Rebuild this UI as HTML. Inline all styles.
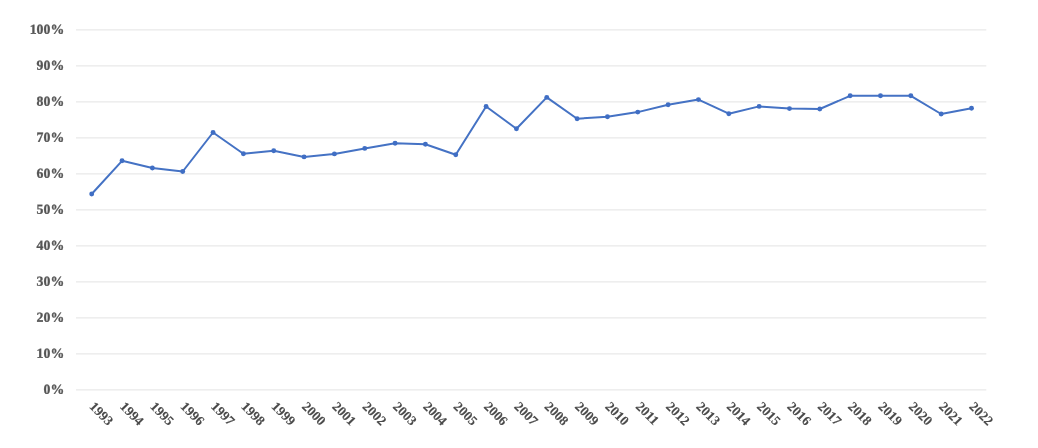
<!DOCTYPE html>
<html><head><meta charset="utf-8"><title>Chart</title>
<style>
html,body{margin:0;padding:0;background:#fff;}
body{width:1038px;height:448px;overflow:hidden;}
svg{display:block;}
text{font-family:"Liberation Serif","Times New Roman",serif;text-rendering:geometricPrecision;}
.yl{font-size:13.8px;font-weight:bold;fill:#555;stroke:#555;stroke-width:0.3px;text-anchor:end;}
.xl{font-size:13.5px;font-weight:bold;fill:#4a4a4a;stroke:#4a4a4a;stroke-width:0.1px;text-anchor:start;}
</style></head><body>
<svg width="1038" height="448" viewBox="0 0 1038 448">
<defs><filter id="soft" x="0" y="0" width="1038" height="448" filterUnits="userSpaceOnUse"><feGaussianBlur stdDeviation="0.7"/></filter></defs>
<rect width="1038" height="448" fill="#ffffff"/>
<g filter="url(#soft)">
<g stroke="#e9e9e9" stroke-width="1.3">
<line x1="76.0" y1="29.8" x2="986.3" y2="29.8"/>
<line x1="76.0" y1="65.8" x2="986.3" y2="65.8"/>
<line x1="76.0" y1="101.8" x2="986.3" y2="101.8"/>
<line x1="76.0" y1="137.8" x2="986.3" y2="137.8"/>
<line x1="76.0" y1="173.8" x2="986.3" y2="173.8"/>
<line x1="76.0" y1="209.8" x2="986.3" y2="209.8"/>
<line x1="76.0" y1="245.8" x2="986.3" y2="245.8"/>
<line x1="76.0" y1="281.8" x2="986.3" y2="281.8"/>
<line x1="76.0" y1="317.8" x2="986.3" y2="317.8"/>
<line x1="76.0" y1="353.8" x2="986.3" y2="353.8"/>
<line x1="76.0" y1="389.8" x2="986.3" y2="389.8"/>
</g>
<g>
<text class="yl" transform="translate(64.2,33.85) rotate(0.03)">100%</text>
<text class="yl" transform="translate(64.2,69.85) rotate(0.03)">90%</text>
<text class="yl" transform="translate(64.2,105.85) rotate(0.03)">80%</text>
<text class="yl" transform="translate(64.2,141.85) rotate(0.03)">70%</text>
<text class="yl" transform="translate(64.2,177.85) rotate(0.03)">60%</text>
<text class="yl" transform="translate(64.2,213.85) rotate(0.03)">50%</text>
<text class="yl" transform="translate(64.2,249.85) rotate(0.03)">40%</text>
<text class="yl" transform="translate(64.2,285.85) rotate(0.03)">30%</text>
<text class="yl" transform="translate(64.2,321.85) rotate(0.03)">20%</text>
<text class="yl" transform="translate(64.2,357.85) rotate(0.03)">10%</text>
<text class="yl" transform="translate(64.2,393.85) rotate(0.03)">0%</text>
</g>
<polyline fill="none" stroke="#4472c4" stroke-width="2.0" stroke-linejoin="round" stroke-linecap="round" points="91.7,194.0 122.04,160.8 152.38,168.0 182.71,171.5 213.05,132.5 243.39,153.7 273.73,150.8 304.07,156.9 334.4,153.9 364.74,148.4 395.08,143.3 425.42,144.3 455.76,154.8 486.09,106.5 516.43,128.8 546.77,97.4 577.11,118.7 607.44,116.7 637.78,112.1 668.12,104.8 698.46,99.6 728.8,113.7 759.13,106.4 789.47,108.6 819.81,109.0 850.15,95.8 880.49,95.8 910.82,95.8 941.16,114.0 971.5,108.3"/>
<g fill="#3f6ec4">
<circle cx="91.7" cy="194.0" r="2.45"/>
<circle cx="122.04" cy="160.8" r="2.45"/>
<circle cx="152.38" cy="168.0" r="2.45"/>
<circle cx="182.71" cy="171.5" r="2.45"/>
<circle cx="213.05" cy="132.5" r="2.45"/>
<circle cx="243.39" cy="153.7" r="2.45"/>
<circle cx="273.73" cy="150.8" r="2.45"/>
<circle cx="304.07" cy="156.9" r="2.45"/>
<circle cx="334.4" cy="153.9" r="2.45"/>
<circle cx="364.74" cy="148.4" r="2.45"/>
<circle cx="395.08" cy="143.3" r="2.45"/>
<circle cx="425.42" cy="144.3" r="2.45"/>
<circle cx="455.76" cy="154.8" r="2.45"/>
<circle cx="486.09" cy="106.5" r="2.45"/>
<circle cx="516.43" cy="128.8" r="2.45"/>
<circle cx="546.77" cy="97.4" r="2.45"/>
<circle cx="577.11" cy="118.7" r="2.45"/>
<circle cx="607.44" cy="116.7" r="2.45"/>
<circle cx="637.78" cy="112.1" r="2.45"/>
<circle cx="668.12" cy="104.8" r="2.45"/>
<circle cx="698.46" cy="99.6" r="2.45"/>
<circle cx="728.8" cy="113.7" r="2.45"/>
<circle cx="759.13" cy="106.4" r="2.45"/>
<circle cx="789.47" cy="108.6" r="2.45"/>
<circle cx="819.81" cy="109.0" r="2.45"/>
<circle cx="850.15" cy="95.8" r="2.45"/>
<circle cx="880.49" cy="95.8" r="2.45"/>
<circle cx="910.82" cy="95.8" r="2.45"/>
<circle cx="941.16" cy="114.0" r="2.45"/>
<circle cx="971.5" cy="108.3" r="2.45"/>
</g>
<g>
<text class="xl" transform="translate(88.80,407.2) rotate(45)">1993</text>
<text class="xl" transform="translate(119.14,407.2) rotate(45)">1994</text>
<text class="xl" transform="translate(149.48,407.2) rotate(45)">1995</text>
<text class="xl" transform="translate(179.81,407.2) rotate(45)">1996</text>
<text class="xl" transform="translate(210.15,407.2) rotate(45)">1997</text>
<text class="xl" transform="translate(240.49,407.2) rotate(45)">1998</text>
<text class="xl" transform="translate(270.83,407.2) rotate(45)">1999</text>
<text class="xl" transform="translate(301.17,407.2) rotate(45)">2000</text>
<text class="xl" transform="translate(331.50,407.2) rotate(45)">2001</text>
<text class="xl" transform="translate(361.84,407.2) rotate(45)">2002</text>
<text class="xl" transform="translate(392.18,407.2) rotate(45)">2003</text>
<text class="xl" transform="translate(422.52,407.2) rotate(45)">2004</text>
<text class="xl" transform="translate(452.86,407.2) rotate(45)">2005</text>
<text class="xl" transform="translate(483.19,407.2) rotate(45)">2006</text>
<text class="xl" transform="translate(513.53,407.2) rotate(45)">2007</text>
<text class="xl" transform="translate(543.87,407.2) rotate(45)">2008</text>
<text class="xl" transform="translate(574.21,407.2) rotate(45)">2009</text>
<text class="xl" transform="translate(604.54,407.2) rotate(45)">2010</text>
<text class="xl" transform="translate(634.88,407.2) rotate(45)">2011</text>
<text class="xl" transform="translate(665.22,407.2) rotate(45)">2012</text>
<text class="xl" transform="translate(695.56,407.2) rotate(45)">2013</text>
<text class="xl" transform="translate(725.90,407.2) rotate(45)">2014</text>
<text class="xl" transform="translate(756.23,407.2) rotate(45)">2015</text>
<text class="xl" transform="translate(786.57,407.2) rotate(45)">2016</text>
<text class="xl" transform="translate(816.91,407.2) rotate(45)">2017</text>
<text class="xl" transform="translate(847.25,407.2) rotate(45)">2018</text>
<text class="xl" transform="translate(877.59,407.2) rotate(45)">2019</text>
<text class="xl" transform="translate(907.92,407.2) rotate(45)">2020</text>
<text class="xl" transform="translate(938.26,407.2) rotate(45)">2021</text>
<text class="xl" transform="translate(968.60,407.2) rotate(45)">2022</text>
</g>
</g>
</svg></body></html>
